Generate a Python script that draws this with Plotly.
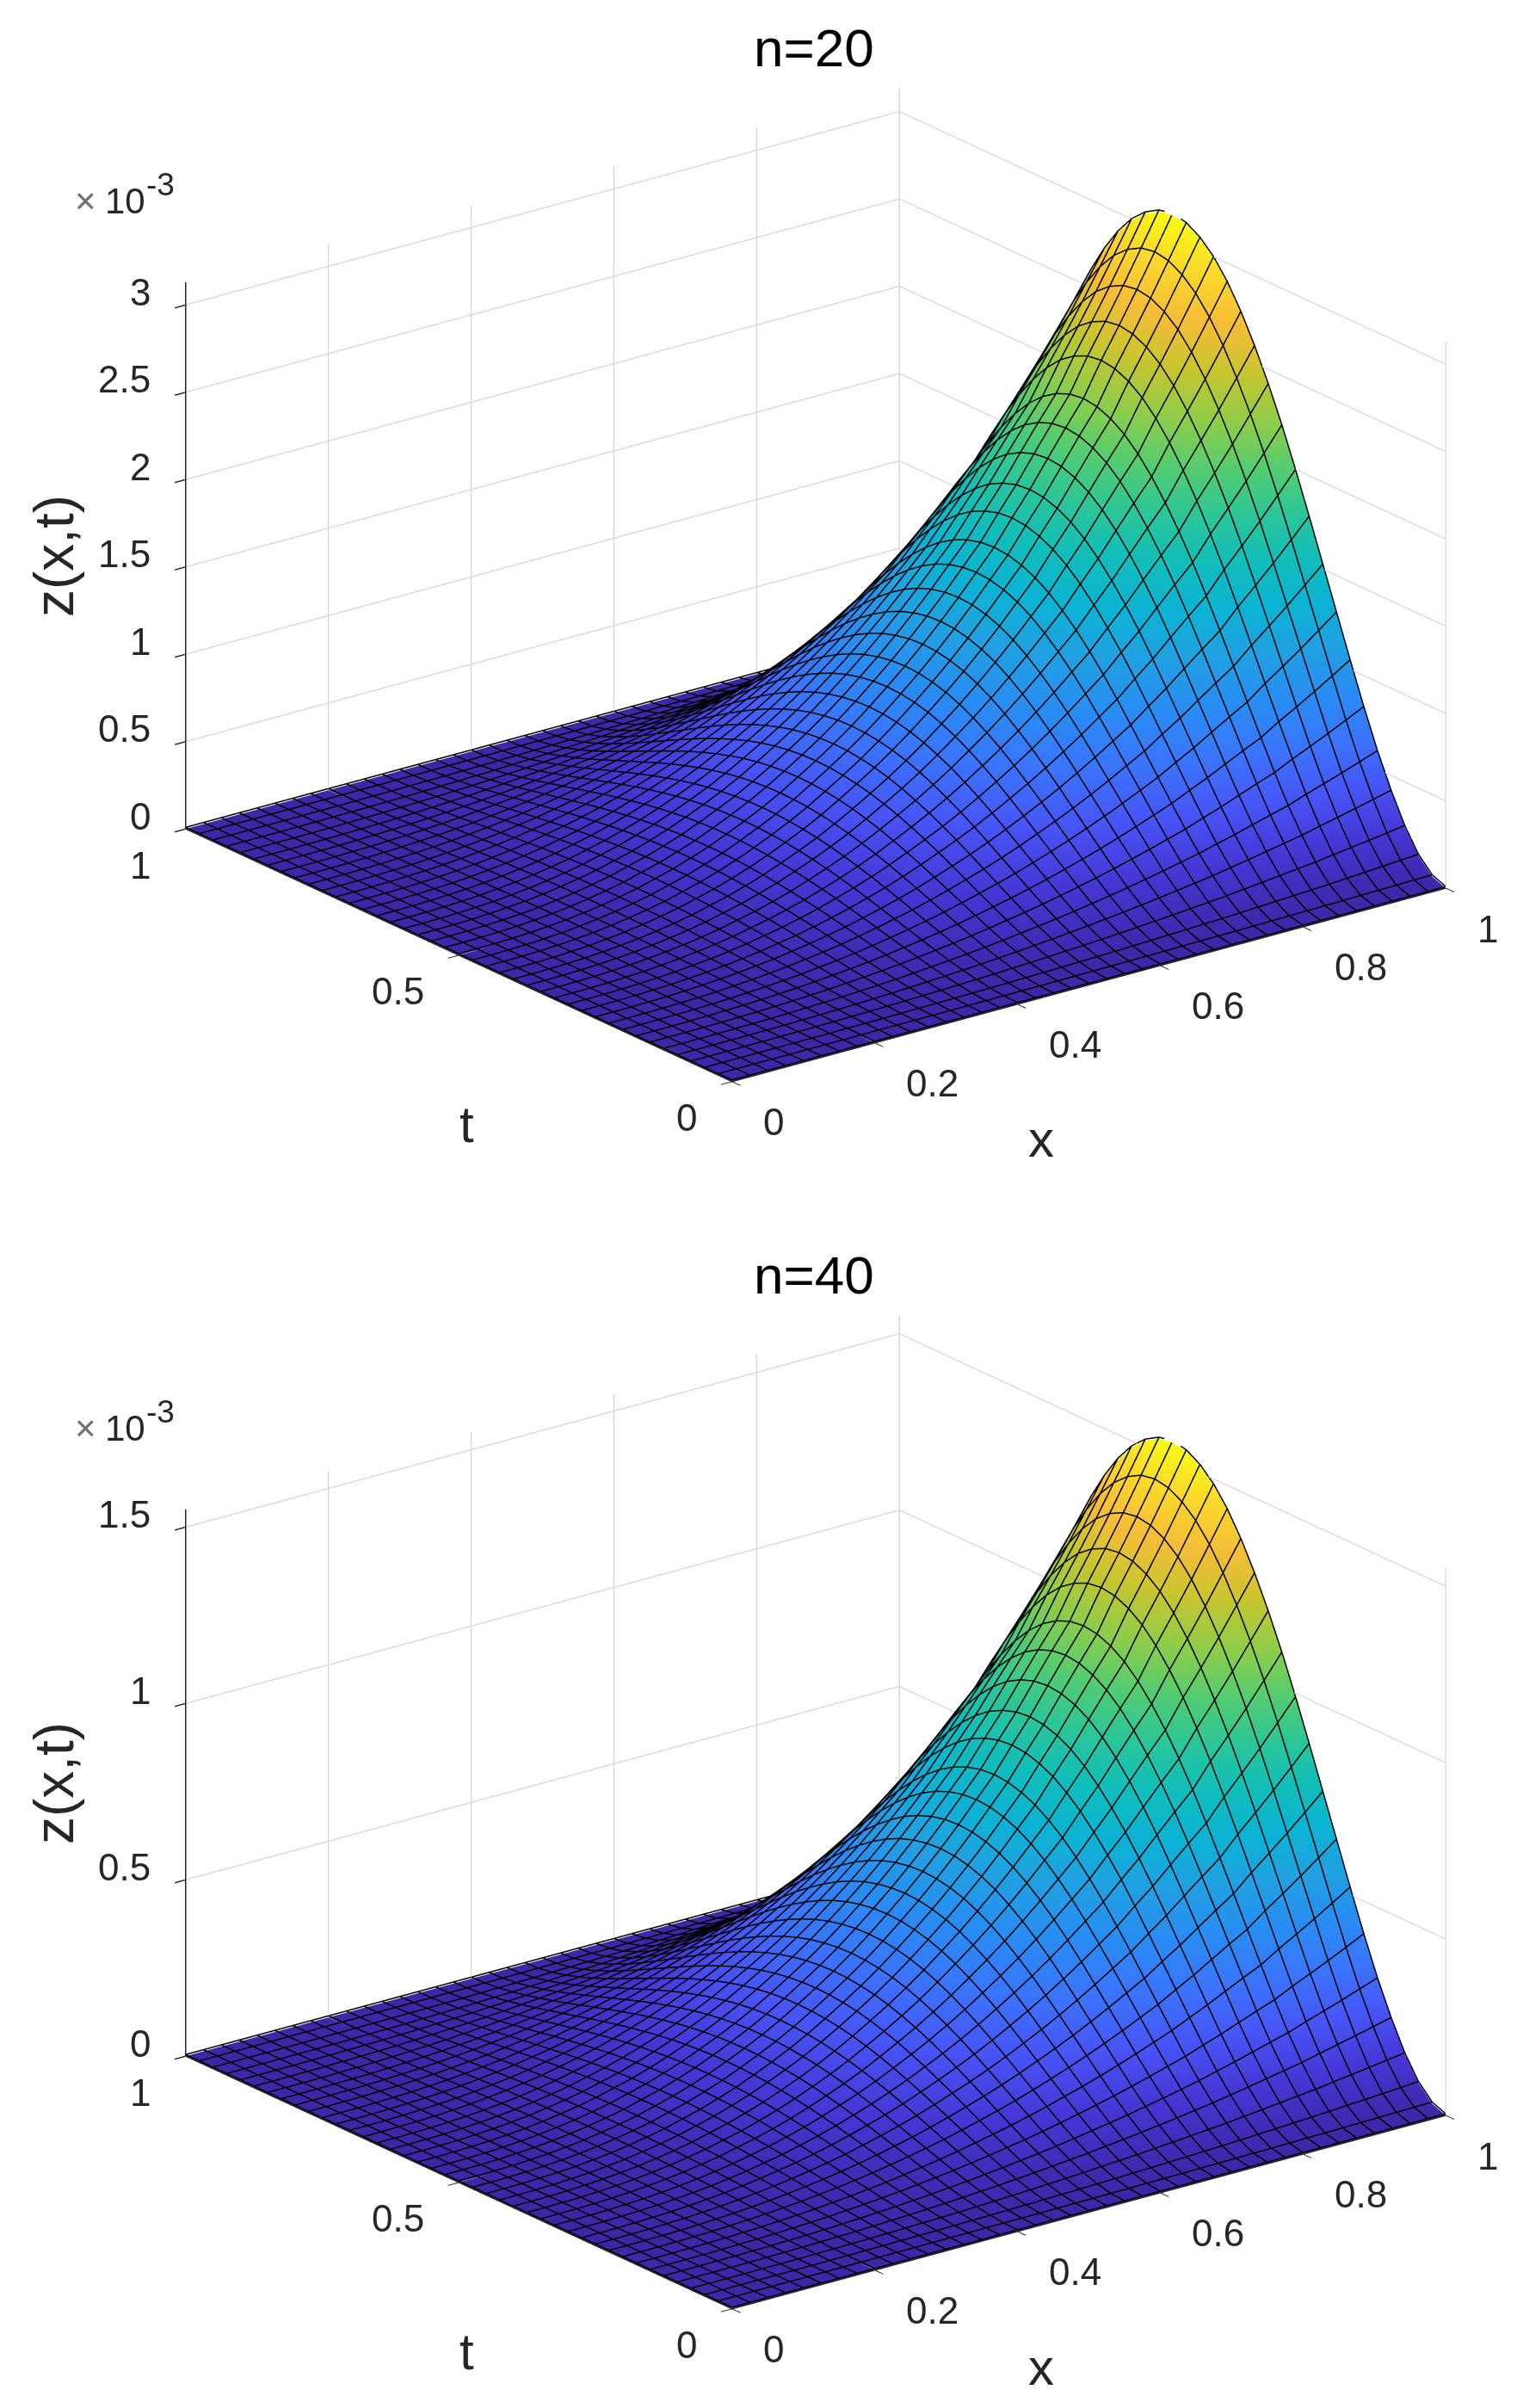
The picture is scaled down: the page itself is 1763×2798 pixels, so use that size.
import plotly.graph_objects as go

# the page body has an 8 px margin, so the figure is 8 px smaller than the window
PAGE_MARGIN = 8
W, H = 1763 - PAGE_MARGIN, 2798 - PAGE_MARGIN

# grid of the mesh as drawn (41 lines each way)
X_GRID = [i / 40 for i in range(41)]
T_GRID = [i / 40 for i in range(41)]

# height of the surface along x and along t
# (crest of each constant-x line, end of each constant-t line on the x=1 edge);
# the picture is consistent with their product, relative to the peak.
X_PROFILE = [0, .0001, .0006, .0015, .0032, .0055, .0087, .0128, .0179, .024, .031, .040, .049, .060,
             .072, .086, .101, .117, .135, .155, .176, .198, .222, .248, .276, .305, .336, .369, .404,
             .441, .478, .523, .566, .614, .661, .706, .767, .822, .879, .939, 1]
T_PROFILE = [0, .010, .036, .077, .130, .191, .260, .334, .410, .486, .562, .636, .706, .770, .828,
             .879, .922, .956, .980, .995, 1, .995, .980, .956, .922, .879, .828, .770, .706, .636,
             .562, .486, .410, .334, .260, .191, .130, .077, .036, .010, 0]

TITLES = ["n=20", "n=40"]
PEAKS = [3.13e-3, 1.55e-3]
Z_TICKS = [[0, .5e-3, 1e-3, 1.5e-3, 2e-3, 2.5e-3, 3e-3], [0, .5e-3, 1e-3, 1.5e-3]]
Z_LABELS = [["0", "0.5", "1", "1.5", "2", "2.5", "3"], ["0", "0.5", "1", "1.5"]]
X_TICKS = [0, .2, .4, .6, .8, 1]
X_LABELS = ["0", "0.2", "0.4", "0.6", "0.8", "1"]
T_TICKS = [0, .5, 1]
T_LABELS = ["0", "0.5", "1"]

PARULA = [[0, "rgb(62,38,168)"], [.07, "rgb(70,54,212)"], [.14, "rgb(71,84,246)"], [.21, "rgb(59,115,253)"],
          [.29, "rgb(40,141,243)"], [.36, "rgb(33,160,226)"], [.43, "rgb(11,179,211)"], [.5, "rgb(17,190,185)"],
          [.57, "rgb(43,197,154)"], [.64, "rgb(83,204,113)"], [.71, "rgb(140,205,76)"], [.79, "rgb(200,197,47)"],
          [.86, "rgb(245,188,56)"], [.93, "rgb(249,215,44)"], [1, "rgb(249,251,21)"]]

FONT = "Liberation Sans"
TICK_COLOR = "#262626"
TICK_SIZE = 44
EYE = [-.5684, -.7426, .3539]
EYE_K = 2
ASPECT_XY = 1.741
ASPECT_Z = 1.132
PANEL_TOP = [80, 1506]
PANEL_H = 1200
PANEL_L, PANEL_R = 132.5, 1762.5
SHIFT = [0, 1426]
MESH_WIDTH = 3
MESH_LIFT = .003  # fraction of the peak, keeps the mesh in front of the faces

fig = go.Figure()
layout = {}
annots = []


def paper(xp, yp):
    return (xp - PAGE_MARGIN) / W, 1 - (yp - PAGE_MARGIN) / H


for i in range(2):
    name = "scene" if i == 0 else "scene2"
    z = [[t * x * PEAKS[i] for x in X_PROFILE] for t in T_PROFILE]
    fig.add_trace(go.Surface(
        x=X_GRID, y=T_GRID, z=z, scene=name, colorscale=PARULA, cmin=0, cmax=PEAKS[i], showscale=False,
        hoverinfo="skip",
        lighting=dict(ambient=1, diffuse=0, specular=0, roughness=1, fresnel=0),
    ))
    lift = MESH_LIFT * PEAKS[i]
    mx, my, mz = [], [], []
    for j, t in enumerate(T_GRID):
        mx += X_GRID + [None]
        my += [t] * len(X_GRID) + [None]
        mz += [v + lift for v in z[j]] + [None]
    for k, x in enumerate(X_GRID):
        mx += [x] * len(T_GRID) + [None]
        my += T_GRID + [None]
        mz += [row[k] + lift for row in z] + [None]
    fig.add_trace(go.Scatter3d(x=mx, y=my, z=mz, mode="lines", scene=name, hoverinfo="skip",
                               line=dict(color="black", width=MESH_WIDTH), showlegend=False))
    ax = dict(showbackground=False, showgrid=True, gridcolor="#d9d9d9", gridwidth=3, zeroline=False,
              showline=True, linecolor=TICK_COLOR, linewidth=3, ticks="outside", ticklen=16,
              tickcolor=TICK_COLOR, tickwidth=3, showticklabels=False, title=dict(text=""), showspikes=False)
    sa = []
    for v, s in zip(X_TICKS, X_LABELS):
        sa.append(dict(x=v, y=0, z=0, text=s, showarrow=False, xanchor="left", yanchor="middle",
                       xshift=35, yshift=-47, font=dict(family=FONT, size=TICK_SIZE, color=TICK_COLOR)))
    for v, s in zip(T_TICKS, T_LABELS):
        sa.append(dict(x=0, y=v, z=0, text=s, showarrow=False, xanchor="right", yanchor="middle",
                       xshift=-38, yshift=-42, font=dict(family=FONT, size=TICK_SIZE, color=TICK_COLOR)))
    for v, s in zip(Z_TICKS[i], Z_LABELS[i]):
        sa.append(dict(x=0, y=1, z=v, text=s, showarrow=False, xanchor="right", yanchor="middle",
                       xshift=-38, yshift=15, font=dict(family=FONT, size=TICK_SIZE, color=TICK_COLOR)))
    xa, ya = paper(PANEL_L, PANEL_TOP[i])
    xb, yb = paper(PANEL_R, PANEL_TOP[i] + PANEL_H)
    layout[name] = dict(
        domain=dict(x=[xa, min(xb, 1)], y=[yb, ya]),
        xaxis=dict(ax, range=[0, 1], tickvals=X_TICKS),
        yaxis=dict(ax, range=[0, 1], tickvals=T_TICKS),
        zaxis=dict(ax, range=[0, PEAKS[i]], tickvals=Z_TICKS[i]),
        aspectmode="manual", aspectratio=dict(x=ASPECT_XY, y=ASPECT_XY, z=ASPECT_Z),
        camera=dict(projection=dict(type="orthographic"), up=dict(x=0, y=0, z=1), center=dict(x=0, y=0, z=0),
                    eye=dict(x=EYE[0] * EYE_K, y=EYE[1] * EYE_K, z=EYE[2] * EYE_K)),
        annotations=sa,
    )
    d = SHIFT[i]
    for text, xp, yp, size, angle, col, anchor in [
        (TITLES[i], 946, 55 + d, 62, 0, "black", "center"),
        ("x", 1210, 1324 + d, 60, 0, TICK_COLOR, "center"),
        ("t", 542, 1306 + d, 60, 0, TICK_COLOR, "center"),
        ("z(x,t)", 63, 646 + d, 64, -90, TICK_COLOR, "center"),
        ("×", 85, 233 + d, 42, 0, "#707070", "left"),
        ("10", 120, 233 + d, 42, 0, TICK_COLOR, "left"),
        ("-3", 168, 214 + d, 37, 0, TICK_COLOR, "left"),
    ]:
        a, b = paper(xp, yp)
        annots.append(dict(x=a, y=b, xref="paper", yref="paper", text=text, showarrow=False, textangle=angle,
                           xanchor=anchor, yanchor="middle", font=dict(family=FONT, size=size, color=col)))

fig.update_layout(width=W, height=H, margin=dict(l=0, r=0, t=0, b=0), paper_bgcolor="white",
                  annotations=annots, showlegend=False, **layout)
fig.write_html("out.html")
